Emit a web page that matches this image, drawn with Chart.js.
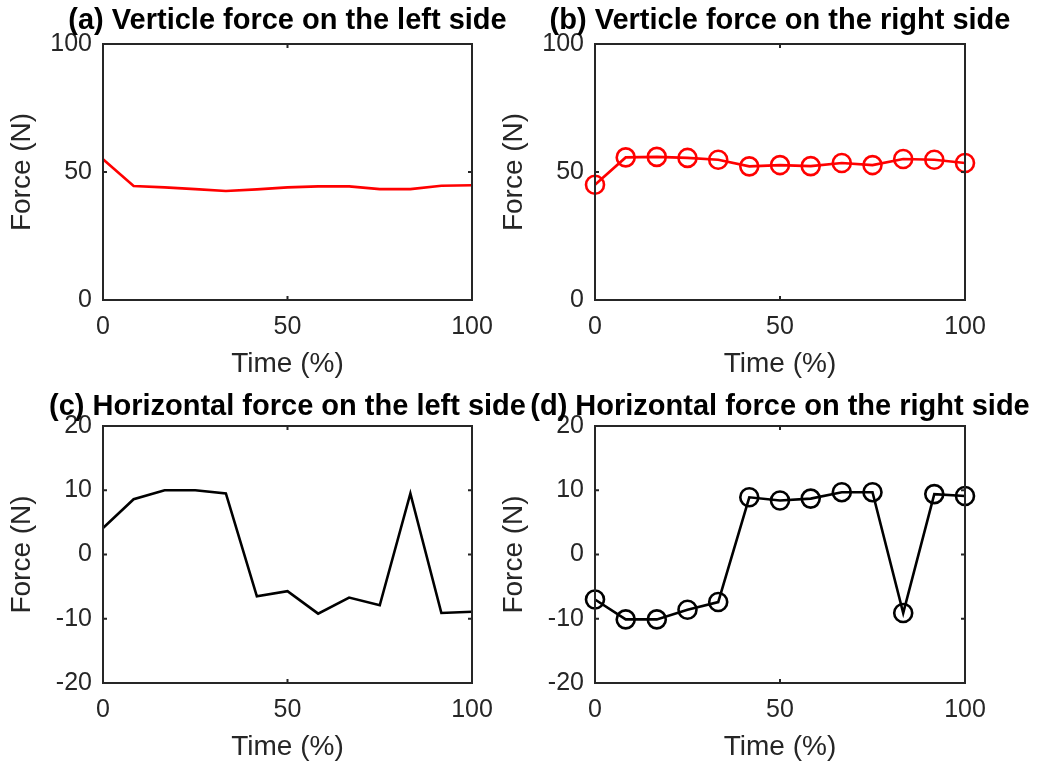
<!DOCTYPE html>
<html>
<head>
<meta charset="utf-8">
<script src="https://cdn.jsdelivr.net/npm/chart.js@4"></script>
<style>
  html, body { margin: 0; padding: 0; background: #fff; }
  #wrap { position: relative; width: 1039px; height: 765px; }
  #wrap canvas { position: absolute; left: 0; top: 0; }
</style>
</head>
<body>
<div id="wrap">
  <canvas id="chartA" width="1039" height="765"></canvas>
  <canvas id="chartB" width="1039" height="765"></canvas>
  <canvas id="chartC" width="1039" height="765"></canvas>
  <canvas id="chartD" width="1039" height="765"></canvas>
</div>
<script>
// time axis (% of cycle)
const timePct = [0, 8.3, 16.7, 25, 33.3, 41.7, 50, 58.3, 66.7, 75, 83.3, 91.7, 100];
const timeTicks = [0, 50, 100];

// vertical forces (N)
const vertLeft  = [55.0, 44.5, 44.0, 43.3, 42.6, 43.2, 44.0, 44.4, 44.4, 43.3, 43.3, 44.6, 44.8];
const vertRight = [45.0, 55.7, 55.9, 55.5, 54.8, 52.2, 52.7, 52.3, 53.5, 52.7, 55.1, 54.8, 53.5];
const vertTicks = [0, 50, 100];

// horizontal forces (N)
const horLeft  = [4.1, 8.6, 10.0, 10.0, 9.5, -6.5, -5.7, -9.2, -6.7, -7.9, 9.5, -9.1, -8.9];
const horRight = [-7.0, -10.1, -10.1, -8.6, -7.4, 8.9, 8.4, 8.7, 9.7, 9.7, -9.1, 9.4, 9.1];
const horTicks = [-20, -10, 0, 10, 20];

const titles = [
  '(a) Verticle force on the left side',
  '(b) Verticle force on the right side',
  '(c) Horizontal force on the left side',
  '(d) Horizontal force on the right side'
];

const FONT = "'Liberation Sans', Arial, Helvetica, sans-serif";
const AXIS = '#262626';

// box + inward ticks + panel title
const boxPlugin = {
  id: 'matlabBox',
  afterDraw(chart, args, opts) {
    const ctx = chart.ctx;
    const a = chart.chartArea;
    const xs = chart.scales.x, ys = chart.scales.y;
    ctx.save();
    ctx.strokeStyle = AXIS;
    ctx.lineWidth = 2;
    ctx.strokeRect(a.left, a.top, a.right - a.left, a.bottom - a.top);
    const tl = 4;
    ctx.beginPath();
    opts.xTicks.forEach(v => {
      const px = xs.getPixelForValue(v);
      ctx.moveTo(px, a.bottom); ctx.lineTo(px, a.bottom - tl);
      ctx.moveTo(px, a.top); ctx.lineTo(px, a.top + tl);
    });
    opts.yTicks.forEach(v => {
      const py = ys.getPixelForValue(v);
      ctx.moveTo(a.left, py); ctx.lineTo(a.left + tl, py);
      ctx.moveTo(a.right, py); ctx.lineTo(a.right - tl, py);
    });
    ctx.stroke();
    ctx.fillStyle = '#000';
    ctx.font = 'bold 29px ' + FONT;
    ctx.textAlign = 'center';
    ctx.textBaseline = 'middle';
    ctx.fillText(opts.title, (a.left + a.right) / 2, opts.titleY);
    ctx.restore();
  }
};

function makePanel(id, p) {
  new Chart(document.getElementById(id), {
    type: 'line',
    data: {
      datasets: [{
        data: timePct.map((t, i) => ({ x: t, y: p.values[i] })),
        borderColor: p.color,
        borderWidth: 2.6,
        backgroundColor: 'transparent',
        pointRadius: p.markers ? 9 : 0,
        pointBorderWidth: 2.6,
        pointBorderColor: p.color,
        pointBackgroundColor: 'transparent',
        tension: 0,
        clip: p.markers ? false : undefined
      }]
    },
    options: {
      responsive: false,
      animation: false,
      events: [],
      layout: { padding: p.pad },
      plugins: {
        legend: { display: false },
        tooltip: { enabled: false },
        matlabBox: { title: p.title, titleY: p.titleY, xTicks: timeTicks, yTicks: p.yTicks }
      },
      scales: {
        x: {
          type: 'linear',
          min: 0, max: 100,
          afterBuildTicks: s => { s.ticks = timeTicks.map(v => ({ value: v })); },
          afterFit: s => { s.height = p.xH; },
          grid: { display: false, drawTicks: false },
          border: { display: false },
          ticks: { color: AXIS, font: { family: FONT, size: 25 }, padding: 12, maxRotation: 0 },
          title: { display: true, text: 'Time (%)', color: AXIS,
                   font: { family: FONT, size: 28 }, padding: { top: p.xTitlePad, bottom: p.xTitlePad } }
        },
        y: {
          type: 'linear',
          min: p.yTicks[0], max: p.yTicks[p.yTicks.length - 1],
          afterBuildTicks: s => { s.ticks = p.yTicks.map(v => ({ value: v })); },
          afterFit: s => { s.width = p.yW; },
          grid: { display: false, drawTicks: false },
          border: { display: false },
          ticks: { color: AXIS, font: { family: FONT, size: 25 }, padding: 11 },
          title: { display: true, text: 'Force (N)', color: AXIS,
                   font: { family: FONT, size: 28 }, padding: { top: p.yTitlePad, bottom: p.yTitlePad } }
        }
      }
    },
    plugins: [boxPlugin]
  });
}

makePanel('chartA', {
  values: vertLeft, color: '#ff0000', markers: false, yTicks: vertTicks, title: titles[0], titleY: 21,
  pad: { left: 0, top: 44, right: 1039 - 472, bottom: 765 - 390 }, yW: 103, xH: 90, xTitlePad: 9, yTitlePad: 5
});
makePanel('chartB', {
  values: vertRight, color: '#ff0000', markers: true, yTicks: vertTicks, title: titles[1], titleY: 21,
  pad: { left: 480, top: 44, right: 1039 - 965, bottom: 765 - 390 }, yW: 115, xH: 90, xTitlePad: 9, yTitlePad: 17
});
makePanel('chartC', {
  values: horLeft, color: '#000000', markers: false, yTicks: horTicks, title: titles[2], titleY: 407,
  pad: { left: 0, top: 426, right: 1039 - 472, bottom: 0 }, yW: 103, xH: 82, xTitlePad: 1, yTitlePad: 5
});
makePanel('chartD', {
  values: horRight, color: '#000000', markers: true, yTicks: horTicks, title: titles[3], titleY: 407,
  pad: { left: 480, top: 426, right: 1039 - 965, bottom: 0 }, yW: 115, xH: 82, xTitlePad: 1, yTitlePad: 17
});
</script>
</body>
</html>
